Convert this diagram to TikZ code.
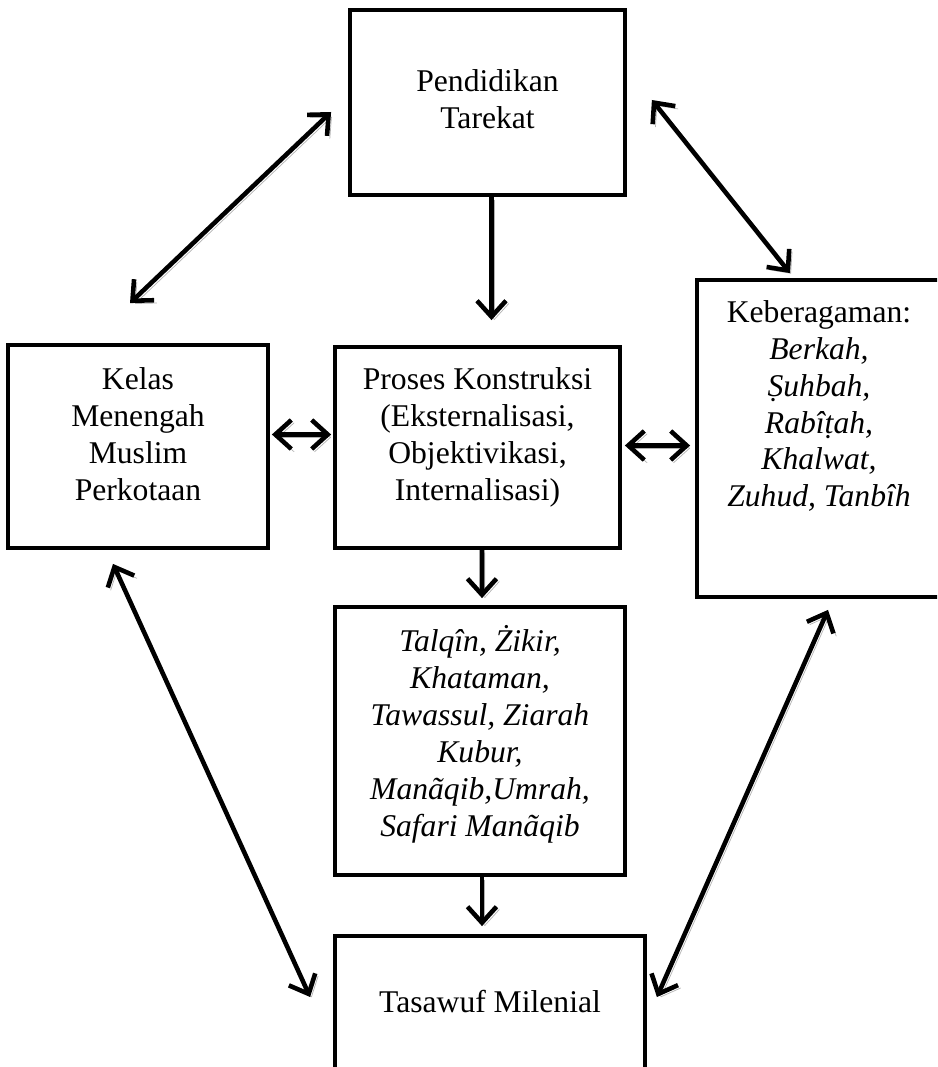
\documentclass[tikz,border=0pt]{standalone}
\usepackage{fontspec}
\setmainfont{Liberation Serif}
\usetikzlibrary{positioning, arrows.meta}

\tikzset{
	kotak/.style={draw, line width=2.2pt, inner sep=0pt},
	teks/.style={align=center, inner sep=0pt, font=\fontsize{18pt}{21pt}\selectfont},
	panah/.style={draw, line width=2.6pt, preaction={draw=black!30, transform canvas={shift={(1.6pt,-1.6pt)}}}}
}

\begin{document}
\begin{tikzpicture}[x=0.02cm, y=-0.02cm, >={Straight Barb[length=3.2mm, width=5.8mm]}]
		
		\clip (0,0) rectangle (937,1067);
		
		% kotak
		\node (tarekat) [kotak, minimum width=5.5cm, minimum height=3.7cm] at (487.5,102.5) {};
		\node (kelas) [kotak, minimum width=5.2cm, minimum height=4.06cm] at (138,446.5) {};
		\node (proses) [kotak, minimum width=5.7cm, minimum height=4.02cm] at (477.5,447.5) {};
		\node (ragam) [kotak, minimum width=5.06cm, minimum height=6.34cm] at (823.5,438.5) {};
		\node (amalan) [kotak, minimum width=5.8cm, minimum height=5.36cm] at (480,741) {};
		\node (tasawuf) [kotak, minimum width=6.2cm, minimum height=2.88cm] at (490,1008) {};
		
		% isi
		\node (tarekat-t) [teks, below=1.22cm of tarekat.north] {Pendidikan\\Tarekat};
		\node (kelas-t) [teks, below=0.48cm of kelas.north] {Kelas\\Menengah\\Muslim\\Perkotaan};
		\node (proses-t) [teks, below=0.44cm of proses.north] {Proses Konstruksi\\(Eksternalisasi,\\Objektivikasi,\\Internalisasi)};
		\node (ragam-t) [teks, below=0.44cm of ragam.north, xshift=-0.09cm] {Keberagaman:\\\textit{Berkah,}\\\textit{Ṣuhbah,}\\\textit{Rabîṭah,}\\\textit{Khalwat,}\\\textit{Zuhud, Tanbîh}};
		\node (amalan-t) [teks, below=0.4cm of amalan.north] {\itshape Talqîn, Żikir,\\\itshape Khataman,\\\itshape Tawassul, Ziarah\\\itshape Kubur,\\\itshape Manãqib,Umrah,\\\itshape Safari Manãqib};
		\node (tasawuf-t) [teks, below=1.12cm of tasawuf.north] {Tasawuf Milenial};
		
		\path[every edge/.style={panah}]
		([shift={(-8,-40)}]kelas.north) edge [<->] ([shift={(-17,9.5)}]tarekat.west)
		([shift={(4,0)}]tarekat.south) edge [->] ([shift={(14,-25)}]proses.north)
		([shift={(25,-2.5)}]tarekat.east) edge [<->] ([shift={(-33.5,-5)}]ragam.north)
		
		([shift={(2,-12)}]kelas.east) edge [<->] ([shift={(-2,-13)}]proses.west)
		([shift={(3,-2)}]proses.east) edge [<->] ([shift={(-5,7)}]ragam.west)
		
		([shift={(4.5,0)}]proses.south) edge [->] ([shift={(2,-7)}]amalan.north)
		([shift={(2,0)}]amalan.south) edge [->] ([shift={(-8,-8)}]tasawuf.north)
		
		([shift={(-25,14)}]kelas.south) edge [<->] ([shift={(-23,-11)}]tasawuf.west)
		([shift={(4.5,11)}]ragam.south) edge [<->] ([shift={(10,-11)}]tasawuf.east);
		
\end{tikzpicture}
\end{document}
